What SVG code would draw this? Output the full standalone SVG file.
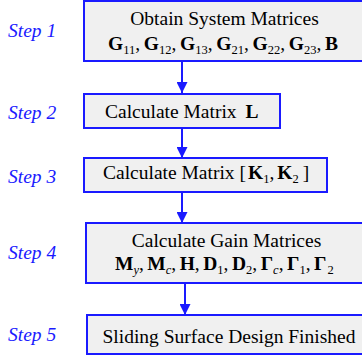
<svg xmlns="http://www.w3.org/2000/svg" width="362" height="362" viewBox="0 0 362 362">
<defs>
<style>
.box{fill:#f0f0f0;stroke:#1a1aff;stroke-width:2}
.t{font-family:"Liberation Serif","Times New Roman",serif;font-size:19.5px;fill:#000;text-anchor:middle}
.f{font-family:"Liberation Serif","Times New Roman",serif;font-size:19.5px;fill:#000;text-anchor:start}
.b{font-weight:bold}
.s{font-size:12.5px;font-weight:normal}
.i{font-style:italic}
.step{font-family:"Liberation Serif","Times New Roman",serif;font-size:19.5px;font-style:italic;fill:#1a1aff}
.conn{stroke:#1a1aff;stroke-width:2;fill:none}
</style>
<marker id="ah" markerWidth="11" markerHeight="11" refX="11" refY="5.5" orient="auto" markerUnits="userSpaceOnUse">
<path d="M0,0 L11,5.5 L0,11 Z" fill="#1a1aff"/>
</marker>
</defs>
<rect width="362" height="362" fill="#fff"/>
<g id="steps">
<text class="step" x="8" y="37">Step 1</text>
<text class="step" x="8" y="119">Step 2</text>
<text class="step" x="8" y="183">Step 3</text>
<text class="step" x="8" y="259">Step 4</text>
<text class="step" x="8" y="341">Step 5</text>
</g>
<g id="connectors">
<line class="conn" x1="182" y1="61" x2="182" y2="93" marker-end="url(#ah)"/>
<line class="conn" x1="182" y1="128" x2="182" y2="158" marker-end="url(#ah)"/>
<line class="conn" x1="182" y1="192" x2="182" y2="223" marker-end="url(#ah)"/>
<line class="conn" x1="185" y1="283" x2="185" y2="315" marker-end="url(#ah)"/>
</g>
<g id="node1">
<rect class="box" x="84" y="1" width="290" height="60"/>
<text class="t" x="224.5" y="25">Obtain System Matrices</text>
<text class="f" x="108" y="50"><tspan class="b">G</tspan><tspan class="s" dy="4">11</tspan><tspan dy="-4">,</tspan><tspan class="b" dx="3.7">G</tspan><tspan class="s" dy="4">12</tspan><tspan dy="-4">,</tspan><tspan class="b" dx="3.7">G</tspan><tspan class="s" dy="4">13</tspan><tspan dy="-4">,</tspan><tspan class="b" dx="3.7">G</tspan><tspan class="s" dy="4">21</tspan><tspan dy="-4">,</tspan><tspan class="b" dx="3.7">G</tspan><tspan class="s" dy="4">22</tspan><tspan dy="-4">,</tspan><tspan class="b" dx="3.7">G</tspan><tspan class="s" dy="4">23</tspan><tspan dy="-4">,</tspan><tspan class="b" dx="3.7">B</tspan></text>
</g>
<g id="node2">
<rect class="box" x="84" y="94" width="196" height="34"/>
<text class="f" x="105" y="118">Calculate Matrix <tspan class="b" dx="4">L</tspan></text>
</g>
<g id="node3">
<rect class="box" x="84" y="158" width="243" height="34"/>
<text class="f" x="103" y="179">Calculate Matrix [<tspan class="b" dx="2">K</tspan><tspan class="s" dy="4">1</tspan><tspan dy="-4">,</tspan><tspan class="b" dx="3">K</tspan><tspan class="s" dy="4">2</tspan><tspan dy="-4" dx="4">]</tspan></text>
</g>
<g id="node4">
<rect class="box" x="86" y="223" width="290" height="60"/>
<text class="t" x="226.5" y="247">Calculate Gain Matrices</text>
<text class="f" x="115" y="270"><tspan class="b">M</tspan><tspan class="s i" dy="4">y</tspan><tspan dy="-4">,</tspan><tspan class="b" dx="3.5">M</tspan><tspan class="s i" dy="4">c</tspan><tspan dy="-4">,</tspan><tspan class="b" dx="3.5">H</tspan><tspan>,</tspan><tspan class="b" dx="3.5">D</tspan><tspan class="s" dy="4">1</tspan><tspan dy="-4">,</tspan><tspan class="b" dx="3.5">D</tspan><tspan class="s" dy="4">2</tspan><tspan dy="-4">,</tspan><tspan class="b" dx="3.5">Γ</tspan><tspan class="s i" dy="4">c</tspan><tspan dy="-4">,</tspan><tspan class="b" dx="3.5">Γ</tspan><tspan class="s" dy="4">1</tspan><tspan dy="-4">,</tspan><tspan class="b" dx="3.5">Γ</tspan><tspan class="s" dy="4" dx="1">2</tspan></text>
</g>
<g id="node5">
<rect class="box" x="87" y="315" width="290" height="39"/>
<text class="t" x="229" y="343">Sliding Surface Design Finished</text>
</g>
</svg>
